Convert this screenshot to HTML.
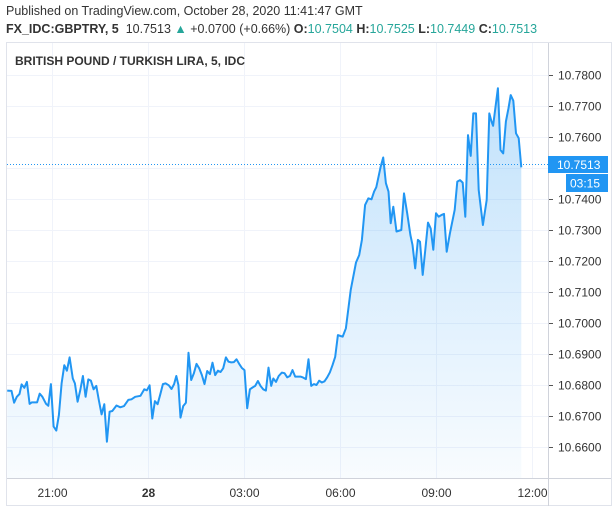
<!DOCTYPE html>
<html><head><meta charset="utf-8"><style>
body{margin:0;background:#fff;font-family:"Liberation Sans",sans-serif;}
#wrap{position:relative;width:615px;height:513px;overflow:hidden;}
.t{position:absolute;white-space:nowrap;}
</style></head><body>
<div id="wrap">
<div class="t" style="left:6px;top:4px;font-size:12.5px;color:#333;">Published on TradingView.com, October 28, 2020 11:41:47 GMT</div>
<div class="t" style="left:6px;top:22px;font-size:12.5px;color:#333;"><b>FX_IDC:GBPTRY, 5</b>&nbsp; 10.7513 <span style="color:#26a69a">▲</span> +0.0700 (+0.66%) <b>O:</b><span style="color:#26a69a">10.7504</span> <b>H:</b><span style="color:#26a69a">10.7525</span> <b>L:</b><span style="color:#26a69a">10.7449</span> <b>C:</b><span style="color:#26a69a">10.7513</span></div>
<svg id="chart" width="615" height="513" style="position:absolute;left:0;top:0" xmlns="http://www.w3.org/2000/svg">
<defs><linearGradient id="fg" x1="0" y1="0" x2="0" y2="1"><stop offset="0" stop-color="#2196f3" stop-opacity="0.28"/><stop offset="1" stop-color="#2196f3" stop-opacity="0.03"/></linearGradient></defs>
<rect x="6.5" y="42.5" width="605" height="463" fill="none" stroke="#e0e3eb"/>
<g id="grid"></g><g id="series"></g><g id="axes"></g>
<text x="15" y="65" font-size="12" font-weight="bold" fill="#333" font-family="Liberation Sans, sans-serif">BRITISH POUND / TURKISH LIRA, 5, IDC</text>
</svg>
</div>
<script>
const minutes=[-84,-76,-71,-66,-61,-57,-52,-47,-42,-38,-28,-23,-18,-11,-7,-2,3,8,13,18,23,28,33,39,43,48,53,58,63,68,73,78,83,88,93,98,103,108,113,121,128,135,143,149,156,166,173,178,183,188,193,198,203,208,213,219,224,229,233,237,241,246,251,256,261,266,271,276,281,286,291,296,301,306,311,316,321,326,331,336,341,346,351,356,361,366,371,376,381,386,391,396,401,406,411,415,420,425,431,436,441,446,451,456,466,471,476,481,486,491,496,501,506,511,516,521,526,531,536,541,545,551,560,570,576,581,587,593,599,604,608,616,621,626,631,635,640,646,655,660,666,672,676,681,686,690,695,700,705,710,715,720,725,730,735,740,746,755,760,765,770,775,780,785,790,795,800,808,815,820,824,827,836,841,846,851,856,860,865,870,875,880];
const prices=[10.6782,10.6781,10.6743,10.6762,10.6771,10.6802,10.6791,10.6810,10.6739,10.6744,10.6744,10.6772,10.6762,10.6739,10.6733,10.6803,10.6666,10.6653,10.6703,10.6805,10.6864,10.6846,10.6889,10.6821,10.6805,10.6746,10.6784,10.6829,10.6762,10.6818,10.6814,10.6786,10.6797,10.6750,10.6705,10.6738,10.6617,10.6714,10.6716,10.6734,10.6728,10.6732,10.6752,10.6754,10.6762,10.6765,10.6786,10.6783,10.6799,10.6692,10.6748,10.6738,10.6770,10.6803,10.6805,10.6799,10.6787,10.6803,10.6829,10.6800,10.6695,10.6732,10.6743,10.6904,10.6816,10.6838,10.6868,10.6854,10.6832,10.6803,10.6845,10.6835,10.6872,10.6832,10.6846,10.6842,10.6854,10.6889,10.6875,10.6873,10.6874,10.6883,10.6868,10.6855,10.6848,10.6725,10.6786,10.6792,10.6797,10.6813,10.6797,10.6786,10.6782,10.6856,10.6797,10.6821,10.6810,10.6829,10.6840,10.6838,10.6825,10.6829,10.6848,10.6827,10.6827,10.6824,10.6819,10.6883,10.6797,10.6803,10.6800,10.6814,10.6808,10.6812,10.6825,10.6841,10.6864,10.6891,10.6961,10.6958,10.6956,10.6983,10.7106,10.7195,10.7219,10.7268,10.7381,10.7402,10.7399,10.7424,10.7438,10.7502,10.7534,10.7451,10.7424,10.7322,10.7375,10.7295,10.7300,10.7418,10.7354,10.7284,10.7252,10.7176,10.7268,10.7262,10.7155,10.7236,10.7324,10.7305,10.7236,10.7354,10.7343,10.7348,10.7352,10.7230,10.7289,10.7365,10.7456,10.7461,10.7453,10.7343,10.7606,10.7539,10.7676,10.7676,10.7429,10.7316,10.7397,10.7676,10.7650,10.7636,10.7757,10.7558,10.7547,10.7650,10.7693,10.7735,10.7717,10.7612,10.7596,10.7502,10.7513];
const priceTicks=[10.78,10.77,10.76,10.75,10.74,10.73,10.72,10.71,10.70,10.69,10.68,10.67,10.66];
const timeTickMinutes=[0,180,360,540,720,900];
const timeTickLabels=["21:00","28","03:00","06:00","09:00","12:00"];
const lastPrice=10.7513;
const countdown="03:15";

const NS="http://www.w3.org/2000/svg";
const xS=m=>52+m/60*32;
const yS=v=>75+(10.78-v)*3100;
function mk(tag,attrs,parent){const e=document.createElementNS(NS,tag);for(const k in attrs)e.setAttribute(k,attrs[k]);parent.appendChild(e);return e;}
const grid=document.getElementById('grid'),ser=document.getElementById('series'),ax=document.getElementById('axes');
const F="Liberation Sans, sans-serif";
priceTicks.forEach(v=>{
  const y=Math.round(yS(v))+0.5;
  const g=mk('line',{x1:7,x2:548,y1:y,y2:y,stroke:'#f0f3fa'},grid);
  
  
  const tk=mk('line',{x1:548,x2:553,y1:y,y2:y,stroke:'#555'},ax);
  
  
  const t=mk('text',{x:558,y:y+4,'font-size':12,fill:'#333','font-family':F},ax);
  t.textContent=v.toFixed(4);
  
  
});
timeTickMinutes.forEach((m,i)=>{
  const x=Math.round(xS(m))+0.5;
  const g=mk('line',{x1:x,x2:x,y1:43,y2:478,stroke:'#f0f3fa'},grid);
  
  
  const t=mk('text',{x:x,y:497,'font-size':12,fill:'#333','text-anchor':'middle','font-family':F,'font-weight':i==1?'bold':'normal'},ax);
  t.textContent=timeTickLabels[i];
  
  
});
let d='';minutes.forEach((m,i)=>{d+=(i?'L':'M')+xS(m).toFixed(1)+' '+yS(prices[i]).toFixed(1);});
const baseY=478;
const area=mk('path',{d:d+'L'+xS(minutes[minutes.length-1]).toFixed(1)+' '+baseY+'L'+xS(minutes[0]).toFixed(1)+' '+baseY+'Z',fill:'url(#fg)'},ser);


const line=mk('path',{d:d,fill:'none',stroke:'#2196f3','stroke-width':2,'stroke-linejoin':'round'},ser);


const ly=Math.round(yS(lastPrice))+0.5;
const dl=mk('line',{x1:7,x2:548,y1:ly,y2:ly,stroke:'#2196f3','stroke-dasharray':'1 2'},ser);


const a1=mk('line',{x1:548.5,x2:548.5,y1:43,y2:506,stroke:'#d0d3db'},ax);


const a2=mk('line',{x1:7,x2:611,y1:478.5,y2:478.5,stroke:'#d0d3db'},ax);


const pb=mk('rect',{x:548,y:ly-8.5,width:60,height:17,fill:'#2196f3'},ax);


const pt=mk('text',{x:557,y:ly+4.5,'font-size':12,fill:'#fff','font-family':F},ax);
pt.textContent=lastPrice.toFixed(4);


const cb=mk('rect',{x:566,y:ly+9.5,width:42,height:18,fill:'#2196f3'},ax);


const ct=mk('text',{x:570,y:ly+23,'font-size':12,fill:'#fff','font-family':F},ax);
ct.textContent=countdown;


</script>
</body></html>
